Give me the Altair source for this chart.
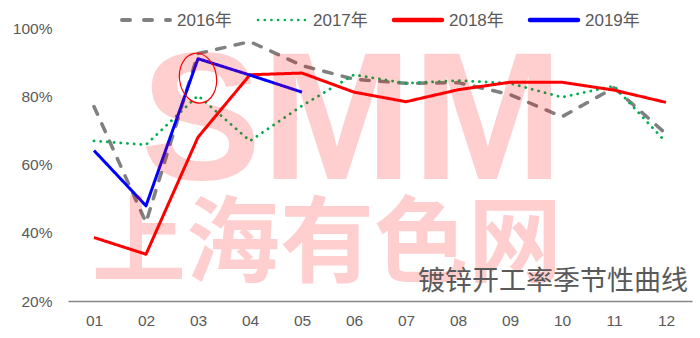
import altair as alt
import pandas as pd

months = ["01", "02", "03", "04", "05", "06", "07", "08", "09", "10", "11", "12"]
series = ["2016年", "2017年", "2018年", "2019年"]
v2016 = [77.0, 43.0, 92.5, 96.0, 89.0, 85.0, 83.8, 84.0, 80.5, 74.0, 82.5, 69.0]
v2017 = [66.9, 65.8, 80.2, 66.9, 77.2, 86.3, 83.8, 84.6, 83.8, 79.7, 83.0, 66.5]
v2018 = [38.6, 33.7, 68.0, 86.3, 86.8, 81.2, 78.4, 81.9, 84.1, 84.1, 81.8, 78.2]
v2019 = [64.1, 47.9, 91.0, 86.2, 81.2]
values = [v2016, v2017, v2018, v2019]

colors = ["#808080", "#00B050", "#FF0000", "#0000FF"]
widths = [3.5, 2.8, 3.0, 3.0]
dashes = [[8.5, 10.5], [0.1, 6.6], [1, 0], [1, 0]]
caps = ["round", "round", "butt", "butt"]
legend_widths = [4.0, 2.6, 4.5, 4.5]
legend_dashes = [[8, 14], [0.1, 6.6], [1, 0], [1, 0]]

y_ticks = [20, 40, 60, 80, 100]
title_text = "镀锌开工率季节性曲线"
wm_latin = "SMM"
wm_cjk = "上海有色网"
note_month = "03"
note_value = 85.3

FONT = "Liberation Sans, Noto Sans CJK SC"
TXT = "#595959"

xscale = alt.Scale(type="point", domain=months, padding=0.5)
yscale = alt.Scale(domain=[20, 100], nice=False, zero=False)
xax = alt.Axis(title=None, labelAngle=0, ticks=False, grid=False,
               domainColor="#868686", domainWidth=1.3,
               labelFont=FONT, labelFontSize=15.5, labelColor=TXT, labelPadding=12)
yax = alt.Axis(title=None, values=y_ticks, labelExpr="datum.value + '%'",
               domain=False, ticks=False, grid=False,
               labelFont=FONT, labelFontSize=15.5, labelColor=TXT, labelPadding=16)
X = alt.X("month:O", scale=xscale, axis=xax)
Y = alt.Y("value:Q", scale=yscale, axis=yax)

layers = []
for i, s in enumerate(series):
    d = pd.DataFrame({"month": months[: len(values[i])], "value": values[i], "series": s})
    layers.append(
        alt.Chart(d).mark_line(color=colors[i], strokeWidth=widths[i], strokeDash=dashes[i],
                               strokeCap=caps[i], strokeJoin="round")
        .encode(x=X, y=Y)
    )

# annotation ellipse
ann = pd.DataFrame({"month": [note_month], "value": [note_value]})
layers.append(
    alt.Chart(ann).mark_point(
        shape="M0,-1 A0.74,1 0 1,1 0,1 A0.74,1 0 1,1 0,-1 Z",
        size=2500, filled=False, stroke="#FF0000", strokeWidth=1.2, angle=352, opacity=1)
    .encode(x=X, y=Y)
)

# watermark (semi-transparent red overlay)
layers.append(
    alt.Chart(pd.DataFrame({"t": [wm_latin]})).mark_text(
        font="Liberation Sans", fontWeight="bold", fontSize=181, color="#FF0000",
        opacity=0.19, align="center", baseline="alphabetic")
    .encode(text="t:N", x=alt.value(284), y=alt.value(151))
)
layers.append(
    alt.Chart(pd.DataFrame({"t": [wm_cjk]})).mark_text(
        font="Noto Sans CJK SC", fontWeight="bold", fontSize=94, color="#FF0000",
        opacity=0.19, align="center", baseline="alphabetic")
    .encode(text="t:N", x=alt.value(259), y=alt.value(247))
)

# title bottom-right
layers.append(
    alt.Chart(pd.DataFrame({"t": [title_text]})).mark_text(
        font="Noto Sans CJK SC", fontSize=27, color=TXT, align="right", baseline="alphabetic")
    .encode(text="t:N", x=alt.value(620), y=alt.value(262))
)

# manual legend
for i, s in enumerate(series):
    x0 = 120 + 136 * i - 68
    layers.append(
        alt.Chart(pd.DataFrame({"s": [s]})).mark_rule(
            color=colors[i], strokeWidth=legend_widths[i], strokeDash=legend_dashes[i],
            strokeCap="round")
        .encode(x=alt.value(x0 + 2), x2=alt.value(x0 + 50), y=alt.value(-8))
    )
    layers.append(
        alt.Chart(pd.DataFrame({"s": [s]})).mark_text(
            font=FONT, fontSize=17, color=TXT, align="left", baseline="middle")
        .encode(text="s:N", x=alt.value(x0 + 57), y=alt.value(-7))
    )

chart = alt.layer(*layers).properties(
    width=624, height=273,
    autosize=alt.AutoSizeParams(type="none"),
    padding={"left": 68, "top": 28, "right": 8, "bottom": 37},
    background="white",
).configure_view(stroke=None)

chart.save("out.html", embed_options={"renderer": "svg", "actions": False})
